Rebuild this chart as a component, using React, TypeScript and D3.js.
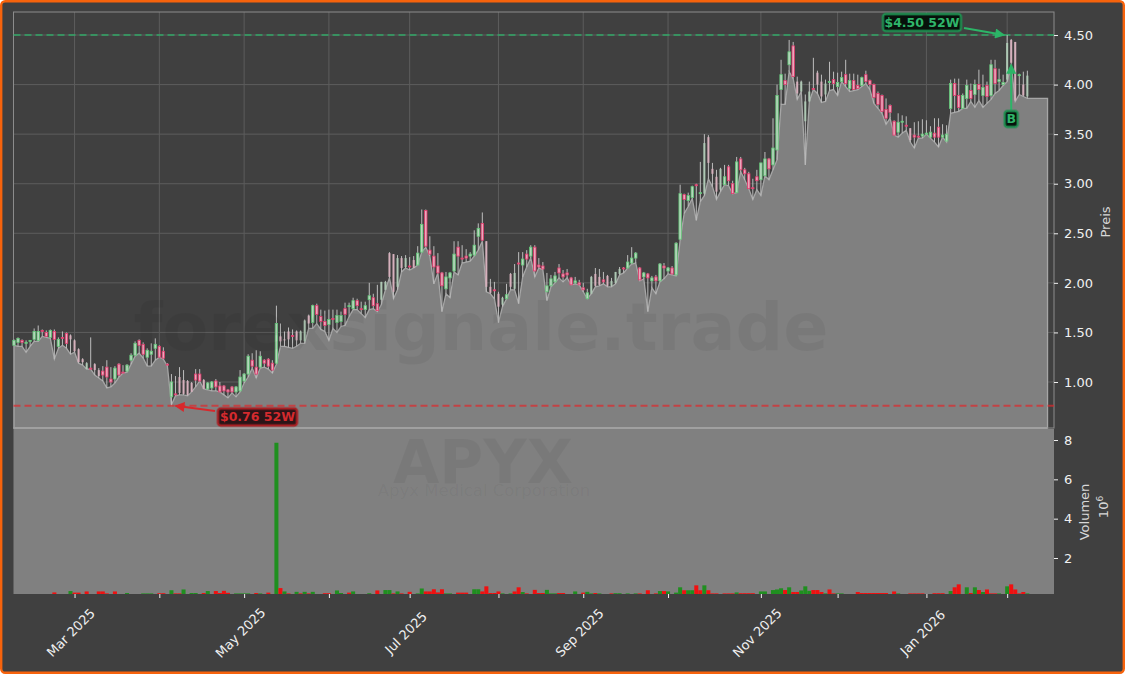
import React, { useEffect, useRef } from 'react';
import * as d3 from 'd3';

// daily candles (Feb 2025 - Feb 2026)
const opens = [
  1.37,1.40,1.42,1.40,1.41,1.43,1.42,1.52,1.50,1.45,
  1.51,1.36,1.45,1.49,1.47,1.42,1.33,1.23,1.13,1.14,
  1.18,1.12,1.11,1.15,1.03,1.03,1.18,1.10,1.11,1.22,
  1.27,1.42,1.38,1.25,1.28,1.34,1.36,1.31,1.18,0.85,
  0.88,1.05,1.02,1.01,0.99,1.08,1.08,1.02,0.93,0.94,
  1.01,0.96,0.96,0.92,0.95,0.90,0.91,1.01,1.08,1.22,
  1.15,1.15,1.22,1.23,1.19,1.19,1.46,1.43,1.51,1.47,
  1.51,1.42,1.41,1.67,1.60,1.77,1.66,1.61,1.58,1.64,
  1.60,1.61,1.74,1.76,1.74,1.82,1.74,1.73,1.83,1.85,
  1.79,1.83,1.93,2.30,2.29,1.96,2.25,2.16,2.17,2.23,
  2.18,2.31,2.73,2.33,2.27,2.17,2.10,1.94,2.05,2.12,
  2.36,2.25,2.27,2.27,2.28,2.47,2.60,2.42,1.96,1.93,
  1.89,1.78,1.84,2.09,1.94,2.20,2.18,2.29,2.27,2.36,
  2.18,2.17,1.91,1.97,2.01,2.15,2.09,2.10,2.05,2.00,
  2.00,1.95,1.84,1.89,2.09,2.06,2.03,2.07,1.97,2.00,
  2.09,2.15,2.15,2.20,2.25,2.15,2.06,2.09,2.02,2.06,
  2.02,2.17,2.12,2.15,2.08,2.44,2.89,2.83,2.86,2.99,
  2.90,2.90,3.47,3.15,3.07,2.94,2.99,3.17,3.00,2.91,
  3.25,3.14,3.10,2.96,3.07,3.04,3.08,3.25,3.19,3.34,
  3.95,4.04,4.20,4.39,4.03,3.93,3.63,3.83,3.96,4.12,
  4.03,3.90,4.02,4.05,3.98,4.03,4.10,3.96,4.04,3.99,
  3.99,4.10,4.04,4.00,3.91,3.89,3.75,3.79,3.63,3.52,
  3.62,3.59,3.56,3.49,3.48,3.48,3.50,3.47,3.51,3.57,
  3.47,3.43,3.76,4.01,3.89,3.76,3.86,3.94,3.90,4.00,
  3.89,3.99,3.89,4.16,4.03,4.00,4.05,4.45,4.43,4.09,4.00,3.88,
];
const closes = [
  1.42,1.44,1.40,1.40,1.42,1.51,1.51,1.51,1.46,1.52,
  1.43,1.43,1.44,1.39,1.43,1.31,1.20,1.20,1.19,1.13,
  1.12,1.06,1.07,1.05,1.00,1.14,1.07,1.09,1.17,1.27,
  1.39,1.37,1.28,1.32,1.31,1.38,1.25,1.24,1.17,1.00,
  0.87,0.89,0.88,0.87,0.90,1.02,1.01,0.93,0.99,1.00,
  0.95,0.90,0.91,0.90,0.90,0.95,1.05,1.08,1.26,1.16,
  1.08,1.26,1.19,1.16,1.12,1.59,1.41,1.42,1.43,1.46,
  1.42,1.51,1.62,1.59,1.77,1.68,1.61,1.57,1.63,1.63,
  1.67,1.67,1.68,1.77,1.82,1.77,1.73,1.77,1.87,1.77,
  1.72,2.01,2.01,2.06,1.91,2.25,2.15,2.25,2.16,2.15,
  2.30,2.59,2.37,2.29,2.16,2.10,1.97,2.06,2.10,2.29,
  2.27,2.24,2.25,2.29,2.38,2.55,2.43,1.96,1.90,1.92,
  1.76,1.85,1.88,1.96,2.10,2.19,2.24,2.24,2.36,2.12,
  2.16,2.14,1.97,2.04,2.07,2.10,2.06,2.08,1.98,2.02,
  1.98,1.93,1.90,2.06,1.97,1.98,2.01,1.97,2.02,2.11,
  2.14,2.14,2.21,2.25,2.30,2.03,2.10,2.05,2.05,2.02,
  2.19,2.15,2.15,2.09,2.40,2.90,2.84,2.88,2.97,2.98,
  2.91,3.41,3.21,3.10,2.92,3.15,3.07,3.03,2.90,3.22,
  3.14,3.10,2.95,2.95,3.03,3.21,3.25,3.15,3.36,3.89,
  4.10,4.00,4.33,4.08,3.91,4.03,3.83,3.93,3.95,4.00,
  3.88,4.01,4.03,4.01,4.02,4.07,4.01,4.04,3.95,3.96,
  4.07,4.03,4.00,3.87,3.80,3.73,3.66,3.72,3.49,3.62,
  3.63,3.58,3.44,3.47,3.47,3.50,3.51,3.52,3.47,3.47,
  3.49,3.50,4.01,3.89,3.77,3.89,3.99,3.86,4.00,3.95,
  3.97,3.88,4.20,4.01,4.05,4.02,4.42,4.22,3.84,4.10,3.89,4.09,
];
const highs = [
  1.43,1.45,1.43,1.42,1.42,1.54,1.57,1.53,1.52,1.53,
  1.53,1.45,1.51,1.50,1.48,1.43,1.34,1.24,1.20,1.45,
  1.19,1.14,1.16,1.22,1.15,1.16,1.19,1.17,1.18,1.29,
  1.41,1.43,1.40,1.34,1.39,1.44,1.37,1.35,1.19,1.08,
  1.06,1.15,1.12,1.02,1.00,1.13,1.13,1.03,1.00,1.01,
  1.03,1.00,0.97,0.93,0.96,0.96,1.12,1.09,1.28,1.29,
  1.32,1.31,1.23,1.24,1.22,1.77,1.59,1.51,1.55,1.53,
  1.52,1.52,1.63,1.68,1.78,1.79,1.73,1.72,1.73,1.73,
  1.73,1.71,1.80,1.80,1.85,1.84,1.81,1.81,2.00,1.89,
  1.98,2.01,2.02,2.31,2.29,2.28,2.27,2.28,2.26,2.27,
  2.37,2.74,2.74,2.47,2.37,2.30,2.11,2.11,2.11,2.42,
  2.42,2.38,2.34,2.31,2.53,2.60,2.71,2.42,2.04,2.01,
  1.91,1.86,1.99,2.10,2.19,2.31,2.31,2.33,2.38,2.38,
  2.25,2.21,2.10,2.08,2.11,2.19,2.13,2.14,2.06,2.06,
  2.03,2.00,1.94,2.07,2.15,2.14,2.11,2.08,2.05,2.11,
  2.16,2.16,2.28,2.36,2.31,2.16,2.11,2.10,2.07,2.08,
  2.20,2.20,2.16,2.17,2.41,2.99,2.90,2.91,2.98,3.00,
  3.22,3.50,3.49,3.21,3.14,3.16,3.19,3.19,3.03,3.27,
  3.27,3.16,3.12,3.05,3.14,3.21,3.32,3.26,3.66,4.00,
  4.25,4.11,4.45,4.43,4.08,4.04,3.90,4.03,4.27,4.14,
  4.10,4.05,4.23,4.13,4.12,4.13,4.25,4.11,4.11,4.10,
  4.08,4.14,4.05,4.01,3.93,3.90,3.86,3.80,3.64,3.71,
  3.69,3.68,3.56,3.62,3.63,3.65,3.64,3.58,3.66,3.66,
  3.60,3.59,4.05,4.06,4.06,3.91,4.05,4.01,4.05,4.15,
  4.10,4.03,4.25,4.25,4.16,4.10,4.50,4.46,4.43,4.11,4.13,4.14,
];
const lows = [
  1.37,1.36,1.36,1.30,1.36,1.41,1.41,1.46,1.45,1.44,
  1.23,1.34,1.37,1.34,1.28,1.30,1.19,1.17,1.13,1.13,
  1.07,1.04,1.01,0.94,0.95,0.99,1.05,1.09,1.10,1.18,
  1.26,1.29,1.24,1.16,1.16,1.22,1.25,1.23,1.16,0.77,
  0.86,0.87,0.87,0.86,0.90,0.95,1.01,0.93,0.92,0.91,
  0.91,0.90,0.87,0.84,0.89,0.85,0.90,0.99,1.05,1.14,
  1.04,1.14,1.15,1.13,1.09,1.18,1.36,1.36,1.35,1.34,
  1.36,1.39,1.39,1.54,1.54,1.59,1.53,1.51,1.42,1.54,
  1.50,1.56,1.57,1.66,1.73,1.73,1.69,1.65,1.73,1.74,
  1.71,1.78,1.93,2.05,1.84,1.93,2.11,2.15,2.13,2.15,
  2.18,2.31,2.36,2.27,1.99,2.10,1.71,1.89,1.85,2.11,
  2.08,2.20,2.21,2.22,2.27,2.33,2.42,1.91,1.89,1.84,
  1.60,1.76,1.84,1.93,1.93,1.79,2.06,2.16,2.25,2.06,
  2.15,2.13,1.82,1.96,2.00,2.05,2.01,2.05,1.98,1.99,
  1.98,1.91,1.84,1.89,1.96,1.97,1.99,1.96,1.96,1.99,
  2.08,2.10,2.15,2.19,2.20,2.02,2.04,1.71,1.95,1.89,
  2.01,2.04,2.09,2.08,2.07,2.43,2.70,2.77,2.85,2.63,
  2.82,2.88,3.05,2.97,2.84,2.92,2.99,2.98,2.90,2.91,
  3.12,3.04,2.95,2.84,2.94,2.88,3.08,3.04,3.14,3.24,
  3.80,3.80,4.13,4.06,3.85,3.93,3.19,3.83,3.95,3.91,
  3.82,3.83,3.94,3.95,3.89,4.03,3.98,3.93,3.94,3.95,
  3.98,4.01,3.95,3.81,3.76,3.71,3.60,3.66,3.49,3.47,
  3.51,3.54,3.42,3.36,3.46,3.46,3.50,3.46,3.42,3.37,
  3.47,3.42,3.71,3.72,3.73,3.76,3.76,3.83,3.77,3.84,
  3.77,3.81,3.85,3.91,3.94,3.99,4.03,4.20,3.83,3.90,3.88,3.86,
];
// volume in millions, negative = red bar
const volumes = [
  .15,.15,.15,.15,.15,.15,.15,.15,.15,.15,
  -.25,.15,.15,.15,.32,-.24,-.24,.15,-.3,.15,
  .15,-.3,-.3,-.2,.15,-.3,.15,.15,.22,.15,
  .15,.15,.2,.2,.2,.15,-.21,-.21,.15,.36,
  -.2,-.2,.4,.15,.22,.22,.15,-.22,.32,.15,
  -.32,-.22,-.33,-.23,.15,.2,.2,.2,.2,.15,
  -.22,.2,.15,-.24,.15,7.86,-.47,.3,-.2,.15,
  .28,-.2,.28,-.2,.28,.15,.15,-.21,-.21,.15,
  .35,.22,.15,-.24,.3,.15,.15,.15,.21,.15,
  -.35,.15,.37,.37,-.2,.3,-.2,.15,-.28,.15,
  .2,.45,-.3,-.3,-.41,-.25,-.41,.2,.2,.15,
  -.24,-.24,-.24,.15,.41,.41,-.3,-.56,-.22,-.22,
  -.3,.2,.15,.2,-.3,-.51,.27,-.2,.15,-.38,
  -.22,-.22,.38,.2,.2,-.22,-.22,.15,.15,.3,
  .15,-.24,.28,.2,-.22,.2,.15,.15,-.2,.21,
  .21,.15,.2,.15,.2,-.2,.15,-.36,.15,-.2,
  .32,-.32,.3,.15,.24,.51,-.36,.36,.36,-.61,
  -.36,.61,-.36,-.2,-.2,.15,-.2,-.2,-.2,.25,
  -.21,-.21,-.21,-.21,.15,.3,.3,.15,.37,.4,
  .46,-.37,.51,-.27,-.27,.35,.56,.33,-.37,-.37,
  -.27,.2,-.4,-.2,.2,.2,.15,.15,.15,-.27,
  -.22,-.22,-.22,-.22,-.22,-.22,-.22,.15,-.3,.2,
  .15,.15,-.2,-.2,-.2,-.2,.15,.15,-.21,-.21,
  -.21,.15,.32,-.51,-.66,.15,.51,-.22,.51,-.37,
  .27,-.4,-.2,-.2,.2,.15,.56,-.66,-.4,-.2,-.27,.2,
];
// candles that show up washed out in the original
const paleCandles = [
  14,15,16,17,18,20,21,41,42,43,44,47,66,67,68,70,71,72,73,
  91,92,93,94,95,96,97,99,117,118,120,121,123,124,143,144,145,147,148,149,150,
  171,172,173,174,175,194,195,196,197,199,200,201,222,246,247,248,250,251,
];
// first trading day of each month, as bar index
const monthIndex = [15, 36, 57, 78, 98, 120, 141, 162, 185, 204, 226, 246];
const monthLabels = ['Mar 2025', '', 'May 2025', '', 'Jul 2025', '', 'Sep 2025', '', 'Nov 2025', '', 'Jan 2026', ''];
const priceTicks = [1, 1.5, 2, 2.5, 3, 3.5, 4, 4.5];
const volumeTicks = [2, 4, 6, 8];
const high52w = 4.5;
const low52w = 0.76;
const buyIndex = 247;
const buyPrice = 4.2;
const lastPadIndex = 256; // the area runs on a few empty bars past the last candle
const lastPadLow = 3.86;

const W = 1125;
const H = 674;
const FONT = '"DejaVu Sans", sans-serif';

export default function App() {
  const svgRef = useRef<SVGSVGElement>(null);

  useEffect(() => {
    if (!svgRef.current) return;
    const svg = d3.select(svgRef.current);
    svg.selectAll('*').remove();

    const left = 13.5, right = 1054, top = 12, split = 428, bottom = 594;
    const x = d3.scaleLinear().domain([-0.12, 257.6]).range([left, right]);
    const y = d3.scaleLinear().domain([1, 4.5]).range([382, 35]);
    const yVol = d3.scaleLinear().domain([2, 8]).range([558, 440]);
    const idx = d3.range(opens.length);
    const pale = new Set(paleCandles);

    // frame
    svg.append('rect').attr('x', 1.2).attr('y', 1.2).attr('width', W - 2.4).attr('height', H - 2.4)
      .attr('rx', 4).attr('fill', '#404040').attr('stroke', '#f7630c').attr('stroke-width', 2.4);

    // grid
    const grid = svg.append('g').attr('stroke', '#5c5c5c').attr('stroke-width', 1);
    monthIndex.forEach(m => {
      grid.append('line').attr('x1', x(m)).attr('x2', x(m)).attr('y1', top).attr('y2', split);
    });
    priceTicks.forEach(p => {
      grid.append('line').attr('x1', left).attr('x2', right).attr('y1', y(p)).attr('y2', y(p));
    });

    // area under the lows
    const pts: [number, number][] = idx.map(i => [i, lows[i]]);
    pts.push([lastPadIndex, lastPadLow]);
    const area = d3.area<[number, number]>()
      .x(d => x(d[0])).y0(split).y1(d => y(d[1]));
    svg.append('path').datum(pts).attr('d', area)
      .attr('fill', '#808080').attr('stroke', '#a6a6a6').attr('stroke-width', 1.3);

    // volume panel
    svg.append('rect').attr('x', left).attr('y', split + 1).attr('width', right - left).attr('height', bottom - split - 1)
      .attr('fill', '#808080');

    // spines
    svg.append('rect').attr('x', left).attr('y', top).attr('width', right - left).attr('height', split - top)
      .attr('fill', 'none').attr('stroke', '#8c8c8c').attr('stroke-width', 1);
    svg.append('line').attr('x1', left).attr('x2', x(lastPadIndex)).attr('y1', split).attr('y2', split)
      .attr('stroke', '#a0a0a0').attr('stroke-width', 2);

    // 52w lines
    svg.append('line').attr('x1', left).attr('x2', right).attr('y1', y(high52w)).attr('y2', y(high52w))
      .attr('stroke', '#2fae68').attr('stroke-width', 2).attr('stroke-dasharray', '7 4').attr('opacity', 0.7);
    svg.append('line').attr('x1', left).attr('x2', right).attr('y1', y(low52w)).attr('y2', y(low52w))
      .attr('stroke', '#e0282c').attr('stroke-width', 2).attr('stroke-dasharray', '7 4').attr('opacity', 0.7);

    // candles
    const candles = svg.append('g');
    candles.selectAll('line').data(idx).join('line')
      .attr('x1', i => x(i)).attr('x2', i => x(i))
      .attr('y1', i => y(highs[i])).attr('y2', i => y(lows[i]))
      .attr('stroke', '#bdbdbd').attr('stroke-width', 1);
    candles.selectAll('rect').data(idx).join('rect')
      .attr('x', i => x(i) - (pale.has(i) ? 1 : 1.2))
      .attr('width', i => (pale.has(i) ? 2 : 2.4))
      .attr('y', i => y(Math.max(opens[i], closes[i])))
      .attr('height', i => Math.max(1, Math.abs(y(opens[i]) - y(closes[i]))))
      .attr('fill', i => {
        const up = closes[i] >= opens[i];
        if (pale.has(i)) return up ? '#aec8b4' : '#d6b0bc';
        return up ? '#b9d4be' : '#eaa8bc';
      })
      .attr('stroke', i => {
        if (pale.has(i)) return 'none';
        return closes[i] >= opens[i] ? '#62c878' : '#e23a6c';
      })
      .attr('stroke-width', 0.8);

    // volume bars
    svg.append('g').selectAll('rect').data(idx).join('rect')
      .attr('x', i => x(i - 0.5))
      .attr('width', i => x(i + 0.5) - x(i - 0.5))
      .attr('y', i => yVol(Math.abs(volumes[i])))
      .attr('height', i => Math.max(0, bottom - yVol(Math.abs(volumes[i]))))
      .attr('fill', i => (volumes[i] < 0 ? '#f01010' : '#1f8f1f'));

    // watermarks
    const marks = svg.append('g').attr('fill', '#000').attr('fill-opacity', 0.05)
      .attr('text-anchor', 'middle').style('font-family', FONT);
    marks.append('text').attr('x', 481).attr('y', 350).attr('font-size', 66.7).attr('font-weight', 700).text('forexsignale.trade');
    marks.append('text').attr('x', 483).attr('y', 483).attr('font-size', 60).attr('font-weight', 700).text('APYX');
    marks.append('text').attr('x', 484).attr('y', 496).attr('font-size', 16.5).text('Apyx Medical Corporation');

    // axes
    const styleAxis = (g: any) => {
      g.select('.domain').remove();
      g.selectAll('.tick line').attr('stroke', '#f0f0f0').attr('stroke-width', 1);
      g.selectAll('.tick text').attr('fill', '#f0f0f0').attr('font-size', 13).style('font-family', FONT);
    };
    svg.append('g').attr('transform', `translate(${right},0)`)
      .call(d3.axisRight(y).tickValues(priceTicks).tickFormat(d3.format('.2f') as any).tickSize(4).tickPadding(6))
      .call(styleAxis);
    svg.append('g').attr('transform', `translate(${right},0)`)
      .call(d3.axisRight(yVol).tickValues(volumeTicks).tickFormat(d3.format('d') as any).tickSize(4).tickPadding(6))
      .call(styleAxis);
    const xAxis = svg.append('g').attr('transform', `translate(0,${bottom})`)
      .call(d3.axisBottom(x).tickValues(monthIndex).tickFormat((_, i) => monthLabels[i]).tickSize(4))
      .call(styleAxis);
    xAxis.selectAll('.tick text')
      .attr('text-anchor', 'middle').attr('dy', 0).attr('x', 0).attr('y', 0)
      .attr('transform', 'translate(-1,42) rotate(-45)');

    // axis titles
    const title = (tx: number, ty: number, s: string) =>
      svg.append('text').attr('transform', `translate(${tx},${ty}) rotate(-90)`)
        .attr('text-anchor', 'middle').attr('fill', '#d8d8d8').attr('font-size', 13)
        .style('font-family', FONT).text(s);
    title(1110, 222, 'Preis');
    title(1089, 512, 'Volumen');
    const exp = title(1108, 507, '10');
    exp.append('tspan').attr('dy', -5).attr('font-size', 9).text('6');

    // annotations
    const defs = svg.append('defs');
    const marker = (id: string, color: string) =>
      defs.append('marker').attr('id', id).attr('viewBox', '0 0 10 10').attr('refX', 9).attr('refY', 5)
        .attr('markerWidth', 11).attr('markerHeight', 10).attr('markerUnits', 'userSpaceOnUse').attr('orient', 'auto')
        .append('path').attr('d', 'M0,0L10,5L0,10Z').attr('fill', color);
    marker('tipGreen', '#2cb567');
    marker('tipRed', '#d8282c');

    const label = (bx: number, by: number, bw: number, bh: number, s: string, color: string, edge: string, bg: string) => {
      svg.append('rect').attr('x', bx).attr('y', by).attr('width', bw).attr('height', bh).attr('rx', 3)
        .attr('fill', bg).attr('stroke', edge).attr('stroke-opacity', 0.45).attr('stroke-width', 3.5);
      svg.append('rect').attr('x', bx).attr('y', by).attr('width', bw).attr('height', bh).attr('rx', 3)
        .attr('fill', 'none').attr('stroke', edge).attr('stroke-width', 1.4);
      svg.append('text').attr('x', bx + bw / 2).attr('y', by + bh / 2 + 4.4).attr('text-anchor', 'middle')
        .attr('fill', color).attr('font-size', 12.5).attr('font-weight', 700).style('font-family', FONT).text(s);
    };
    const arrow = (x1: number, y1: number, x2: number, y2: number, color: string, tip: string) => {
      svg.append('line').attr('x1', x1).attr('y1', y1).attr('x2', x2).attr('y2', y2)
        .attr('stroke', color).attr('stroke-width', 2).attr('marker-end', `url(#${tip})`);
    };

    arrow(964, 28, x(246) - 3, y(high52w), '#2cb567', 'tipGreen');
    label(883, 14, 78, 17, '$4.50 52W', '#2fb56a', '#1f8f50', '#07110b');
    arrow(215, 411, x(39) + 4, y(low52w), '#d8282c', 'tipRed');
    label(218, 408.5, 79, 17, '$0.76 52W', '#d42a2e', '#a82024', '#2b1518');
    arrow(x(buyIndex), 110, x(buyIndex), y(buyPrice), '#2cb567', 'tipGreen');
    label(x(buyIndex) - 6.5, 111, 13, 16, 'B', '#2fb56a', '#1f8f50', '#07110b');
  }, []);

  return (
    <svg
      ref={svgRef}
      width={W}
      height={H}
      style={{ position: 'absolute', left: 0, top: 0, background: '#ffffff' }}
    />
  );
}
